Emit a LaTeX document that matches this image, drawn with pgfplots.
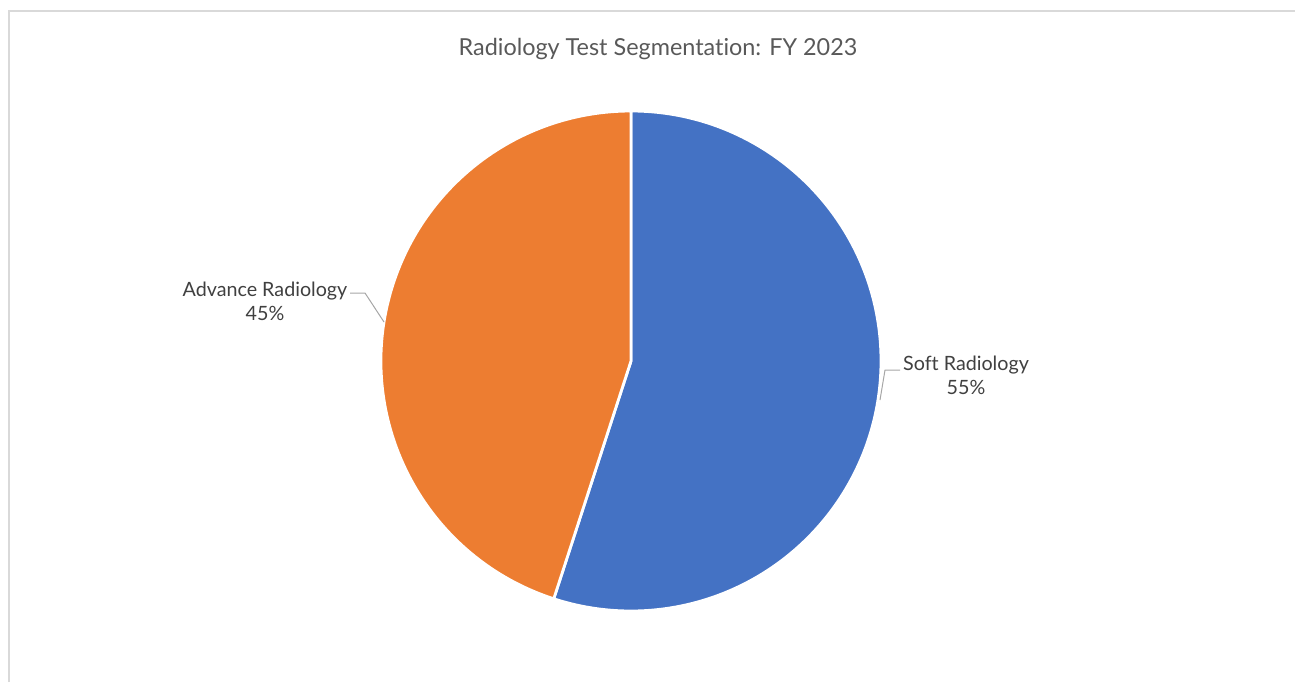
\documentclass[border=0pt]{standalone}
\usepackage{pgfplots}
\usepackage{pgfplotstable}
\pgfplotsset{compat=1.18}
\usepackage{fontspec}
\setmainfont{Lato}[Ligatures={NoCommon}]
\definecolor{softblue}{HTML}{4472C4}
\definecolor{advorange}{HTML}{ED7D31}
\definecolor{titlegray}{HTML}{595959}
\definecolor{labelgray}{HTML}{404040}
\definecolor{leadergray}{HTML}{A6A6A6}
\definecolor{framegray}{HTML}{D9D9D9}
\pgfplotstableread{
label value
Soft 55
Advance 45
}\pietable
\pgfplotstablegetelem{0}{value}\of\pietable
\let\vSoft\pgfplotsretval
\pgfplotstablegetelem{1}{value}\of\pietable
\let\vAdv\pgfplotsretval
\pgfmathsetmacro{\total}{\vSoft+\vAdv}
\pgfmathsetmacro{\aStart}{90}
\pgfmathsetmacro{\aMid}{90-360*(\vSoft/\total)}
\pgfmathsetmacro{\aEnd}{\aMid-360*(\vAdv/\total)}
\pgfmathsetmacro{\cx}{631}
\pgfmathsetmacro{\cy}{321}
\pgfmathsetmacro{\rr}{250}
\pgfmathsetmacro{\xA}{\cx+\rr*cos(\aStart)}
\pgfmathsetmacro{\yA}{\cy+\rr*sin(\aStart)}
\pgfmathsetmacro{\xB}{\cx+\rr*cos(\aMid)}
\pgfmathsetmacro{\yB}{\cy+\rr*sin(\aMid)}
\begin{document}
\begin{tikzpicture}
\path[use as bounding box] (0,0) rectangle (647.5pt,341pt);
\begin{axis}[
  at={(0,0)}, anchor=south west,
  width=647.5pt, height=341pt, scale only axis,
  xmin=0, xmax=1295, ymin=0, ymax=682,
  hide axis, clip=false]
% frame
\draw[framegray, line width=0.8pt] (axis cs:9,0) -- (axis cs:9,671) -- (axis cs:1295,671);
% title
\node[font=\fontsize{11.7}{14}\selectfont, text=titlegray] at (axis cs:658,633) {Radiology Test Segmentation: FY 2023};
% wedges
\fill[softblue, draw=white, line width=1.4pt, line join=round]
  (axis cs:\cx,\cy) -- (axis cs:\xA,\yA) arc[start angle=\aStart, end angle=\aMid, radius=125pt] -- cycle;
\fill[advorange, draw=white, line width=1.4pt, line join=round]
  (axis cs:\cx,\cy) -- (axis cs:\xB,\yB) arc[start angle=\aMid, end angle=\aEnd, radius=125pt] -- cycle;
% leader lines
\draw[leadergray, line width=0.5pt] (axis cs:880,282) -- (axis cs:885,312) -- (axis cs:900,312);
\draw[leadergray, line width=0.5pt] (axis cs:384,360) -- (axis cs:365,389) -- (axis cs:350,389);
% labels
\node[font=\fontsize{9.85}{12}\selectfont, text=labelgray, align=center] at (axis cs:966,307) {Soft Radiology\\55\%};
\node[font=\fontsize{9.85}{12}\selectfont, text=labelgray, align=center] at (axis cs:265,381) {Advance Radiology\\45\%};
\end{axis}
\end{tikzpicture}
\end{document}
